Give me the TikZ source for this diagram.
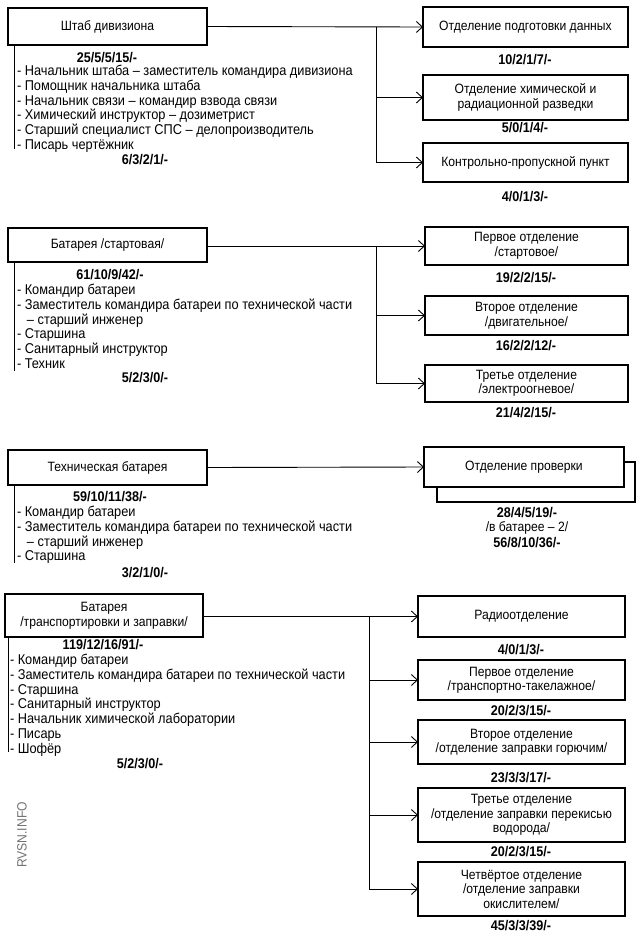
\documentclass[tikz,border=0pt]{standalone}
\usepackage{fontspec}
\setmainfont[FakeStretch=0.9]{Liberation Sans}
\usetikzlibrary{arrows.meta}
\begin{document}
\begin{tikzpicture}[x=1pt,y=-1pt,
  every node/.style={inner sep=0pt,outer sep=0pt},
  box/.style={draw,line width=1.7pt,fill=white,align=center,font=\fontsize{13.5}{14.5}\selectfont},
  lbl/.style={font=\fontsize{14}{15}\selectfont\bfseries},
  itm/.style={anchor=base west,font=\fontsize{14.2}{15}\selectfont},
  conn/.style={line width=0.9pt,-{Straight Barb[length=6pt,width=11pt,line width=0.9pt]}},
  plain/.style={line width=0.9pt}]
\useasboundingbox (0,0) rectangle (640,935);
\fill[white] (0,0) rectangle (640,935);

% ===== Section 1 =====
\node[box,minimum width=199pt,minimum height=37pt] (A1) at (107.5,26.5) {Штаб дивизиона};
\node[lbl] (A1n) at (107,58) {25/5/5/15/-};
\foreach \t [count=\i] in {- Начальник штаба – заместитель командира дивизиона,- Помощник начальника штаба,- Начальник связи – командир взвода связи,- Химический инструктор – дозиметрист,- Старший специалист СПС – делопроизводитель,- Писарь чертёжник}
  \node[itm] (A1i\i) at (17,{75.5+(\i-1)*14.8}) {\t};
\node[lbl] (A1m) at (145,160) {6/3/2/1/-};
\draw[plain] ([xshift=6pt]A1.south west) -- (14,149);

\node[box,minimum width=205pt,minimum height=40pt] (R11) at (525.5,27) {Отделение подготовки данных};
\node[lbl] (R11n) at (525,60) {10/2/1/7/-};
\node[box,minimum width=205pt,minimum height=45pt] (R12) at (525.5,97.5) {Отделение химической и\\радиационной разведки};
\node[lbl] (R12n) at (525,128) {5/0/1/4/-};
\node[box,minimum width=205pt,minimum height=39pt] (R13) at (525.5,162.5) {Контрольно-пропускной пункт};
\node[lbl] (R13n) at (525,197) {4/0/1/3/-};
\coordinate (j1) at (376,27);
\draw[conn] (A1.east) -- (R11.west);
\draw[conn] (j1) |- (R12.west);
\draw[conn] (j1) |- (R13.west);

% ===== Section 2 =====
\node[box,minimum width=199pt,minimum height=34pt] (B1) at (107.5,245) {Батарея /стартовая/};
\node[lbl] (B1n) at (110,275) {61/10/9/42/-};
\node[itm] (B1i1) at (17,294.5) {- Командир батареи};
\node[itm] (B1i2) at (17,309.3) {- Заместитель командира батареи по технической части};
\node[itm] (B1i3) at (27,324.1) {– старший инженер};
\node[itm] (B1i4) at (17,338.9) {- Старшина};
\node[itm] (B1i5) at (17,353.7) {- Санитарный инструктор};
\node[itm] (B1i6) at (17,368.5) {- Техник};
\node[lbl] (B1m) at (145,378) {5/2/3/0/-};
\draw[plain] ([xshift=6pt]B1.south west) -- (14,371);

\node[box,minimum width=203pt,minimum height=38pt] (R21) at (526.5,246) {Первое отделение\\/стартовое/};
\node[lbl] (R21n) at (526,278) {19/2/2/15/-};
\node[box,minimum width=203pt,minimum height=39pt] (R22) at (526.5,315.5) {Второе отделение\\/двигательное/};
\node[lbl] (R22n) at (526,346) {16/2/2/12/-};
\node[box,minimum width=203pt,minimum height=37pt] (R23) at (526.5,383.5) {Третье отделение\\/электроогневое/};
\node[lbl] (R23n) at (526,413) {21/4/2/15/-};
\coordinate (j2) at (376,246);
\draw[conn] (B1.east |- R21.west) -- (R21.west);
\draw[conn] (j2) |- (R22.west);
\draw[conn] (j2) |- (R23.west);

% ===== Section 3 =====
\node[box,minimum width=199pt,minimum height=35pt] (C1) at (107.5,467.5) {Техническая батарея};
\node[lbl] (C1n) at (110,497) {59/10/11/38/-};
\node[itm] (C1i1) at (17,516.5) {- Командир батареи};
\node[itm] (C1i2) at (17,531.3) {- Заместитель командира батареи по технической части};
\node[itm] (C1i3) at (27,546.1) {– старший инженер};
\node[itm] (C1i4) at (17,560.9) {- Старшина};
\node[lbl] (C1m) at (145,573) {3/2/1/0/-};
\draw[plain] ([xshift=6pt]C1.south west) -- (14,563);

\node[draw,line width=1.7pt,minimum width=198pt,minimum height=40pt] (R31b) at (536,482) {};
\node[box,minimum width=200pt,minimum height=40pt] (R31) at (524,467) {Отделение проверки};
\node[lbl] (R31n) at (527,513) {28/4/5/19/-};
\node[font=\fontsize{13.5}{14}\selectfont] (R31m) at (527,528) {/в батарее – 2/};
\node[lbl] (R31k) at (527,543) {56/8/10/36/-};
\draw[conn] (C1.east) -- (R31.west);

% ===== Section 4 =====
\node[box,minimum width=198pt,minimum height=43pt] (D1) at (104,615.5) {Батарея\\/транспортировки и заправки/};
\node[lbl] (D1n) at (103,645) {119/12/16/91/-};
\foreach \t [count=\i] in {- Командир батареи,- Заместитель командира батареи по технической части,- Старшина,- Санитарный инструктор,- Начальник химической лаборатории,- Писарь,- Шофёр}
  \node[itm] (D1i\i) at (10,{664.5+(\i-1)*14.8}) {\t};
\node[lbl] (D1m) at (140,764) {5/2/3/0/-};
\draw[plain] ([xshift=3pt]D1.south west) -- (8,752);

\node[box,minimum width=207pt,minimum height=41pt] (R41) at (521.5,616.5) {Радиоотделение};
\node[lbl] (R41n) at (521,650) {4/0/1/3/-};
\node[box,minimum width=207pt,minimum height=40pt] (R42) at (521.5,680) {Первое отделение\\/транспортно-такелажное/};
\node[lbl] (R42n) at (521,711) {20/2/3/15/-};
\node[box,minimum width=207pt,minimum height=44pt] (R43) at (521.5,742) {Второе отделение\\/отделение заправки горючим/};
\node[lbl] (R43n) at (521,778) {23/3/3/17/-};
\node[box,minimum width=207pt,minimum height=54pt] (R44) at (521.5,815) {Третье отделение\\/отделение заправки перекисью\\водорода/};
\node[lbl] (R44n) at (521,852) {20/2/3/15/-};
\node[box,minimum width=207pt,minimum height=54pt] (R45) at (521.5,889) {Четвёртое отделение\\/отделение заправки\\окислителем/};
\node[lbl] (R45n) at (521,926) {45/3/3/39/-};
\coordinate (j4) at (369,616.5);
\draw[conn] (D1.east |- R41.west) -- (R41.west);
\draw[conn] (j4) |- (R42.west);
\draw[conn] (j4) |- (R43.west);
\draw[conn] (j4) |- (R44.west);
\draw[conn] (j4) |- (R45.west);

\node[rotate=90,text=black!55,font=\fontsize{13.5}{14}\selectfont] (wm) at (22,835) {RVSN.INFO};
\end{tikzpicture}
\end{document}
